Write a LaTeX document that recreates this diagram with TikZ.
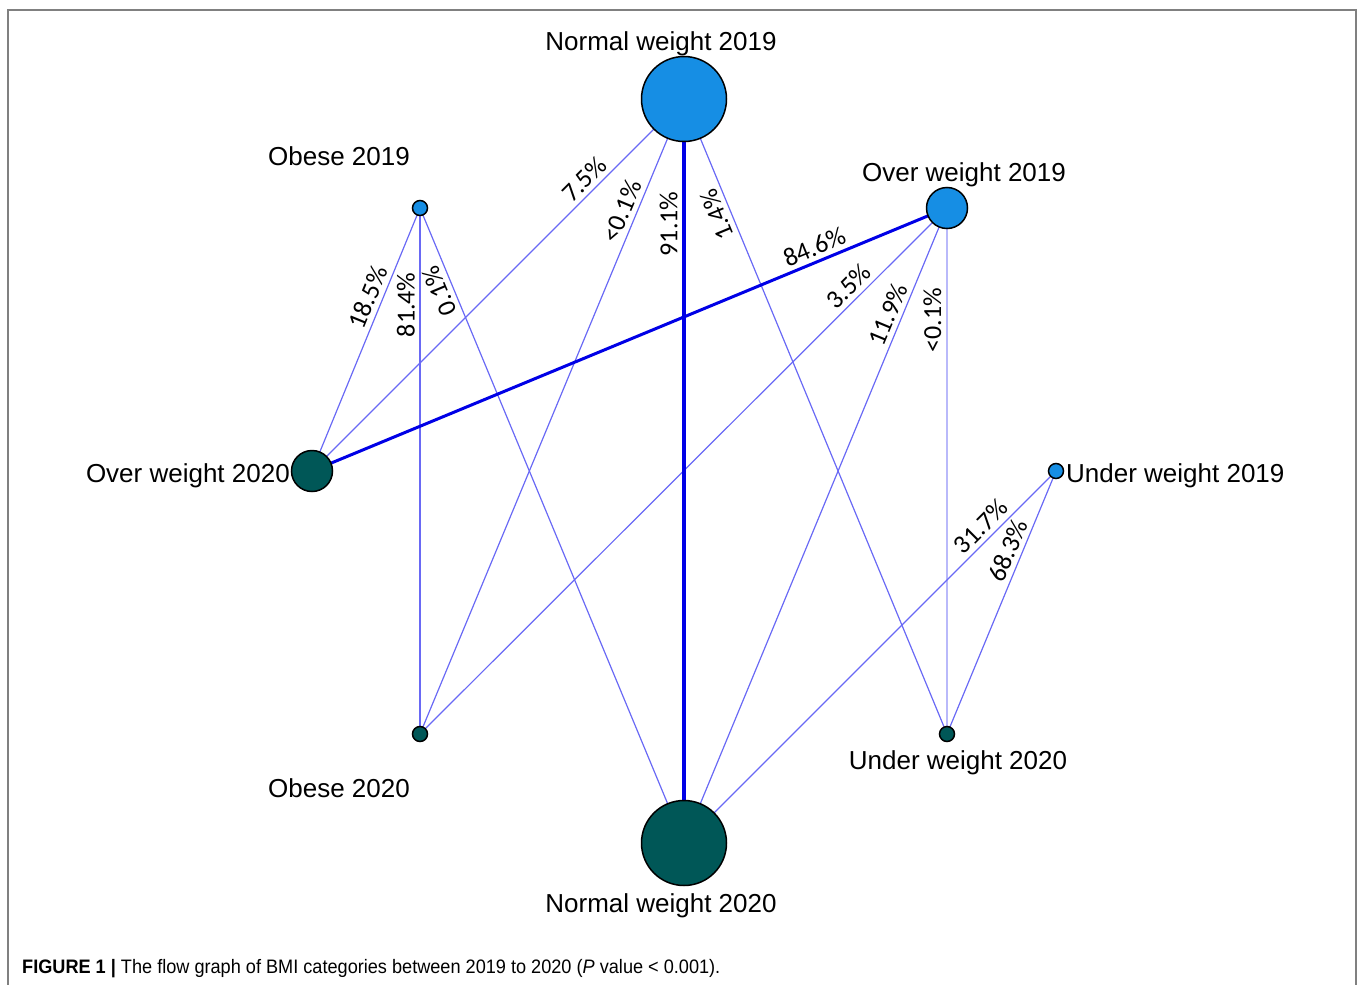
\documentclass[tikz,border=0pt]{standalone}
\usepackage{fontspec}
\setmainfont{Liberation Sans}
\newfontfamily\pctfont{Carlito}
\newfontfamily\capfont[FakeStretch=0.93]{Liberation Sans}
\usetikzlibrary{backgrounds}
\definecolor{nodeblue}{RGB}{22,142,228}
\definecolor{nodeteal}{RGB}{0,87,87}
\definecolor{edgethin}{RGB}{105,105,245}
\definecolor{edgethick}{RGB}{0,0,230}
\definecolor{edgepale}{RGB}{185,185,250}
\definecolor{framegray}{RGB}{128,128,128}
\begin{document}
\begin{tikzpicture}[x=1pt,y=-1pt,
  y19/.style={circle, draw=black, line width=1.5pt, fill=nodeblue, inner sep=0pt},
  y20/.style={circle, draw=black, line width=1.5pt, fill=nodeteal, inner sep=0pt},
  bignode/.style={minimum size=85pt},
  midnode/.style={minimum size=41pt},
  smallnode/.style={minimum size=15pt},
  lab/.style={font=\fontsize{26}{30}\selectfont, inner sep=0pt},
  pct/.style={font=\pctfont\fontsize{26}{30}\selectfont, sloped, above=1.5pt, allow upside down, inner sep=3pt},
  flow/.style={draw=edgethin, line width=1.2pt},
  paleflow/.style={draw=edgepale, line width=2.5pt},
  strongflow/.style={draw=edgethick, line width=3pt},
  strongestflow/.style={draw=edgethick, line width=4pt}]
\useasboundingbox (0,0) rectangle (1360,985);
\draw[framegray, line width=1.5pt] (8,995) -- (8,10) -- (1356,10) -- (1356,995);

% nodes
\node[y19,bignode] (n19) at (684,99) {};
\node[y19,smallnode] (ob19) at (420,208) {};
\node[y19,midnode] (ov19) at (947,208) {};
\node[y19,smallnode] (un19) at (1056,471) {};
\node[y20,midnode] (ov20) at (312,471) {};
\node[y20,smallnode] (ob20) at (420,734) {};
\node[y20,bignode] (n20) at (684,843) {};
\node[y20,smallnode] (un20) at (947,734) {};

% node labels
\node[lab, anchor=base] (ln19) at (661,50) {Normal weight 2019};
\node[lab, anchor=base] (lob19) at (339,165) {Obese 2019};
\node[lab, anchor=base] (lov19) at (964,181) {Over weight 2019};
\node[lab, anchor=base west] (lun19) at (1066,482) {Under weight 2019};
\node[lab, anchor=base east] (lov20) at (290,482) {Over weight 2020};
\node[lab, anchor=base] (lob20) at (339,797) {Obese 2020};
\node[lab, anchor=base] (ln20) at (661,912) {Normal weight 2020};
\node[lab, anchor=base] (lun20) at (958,769) {Under weight 2020};

% edges
\begin{scope}[on background layer]
\draw[flow] (ov20.center) -- node[pct,pos=0.758] {7.5\%} (n19.center);
\draw[flow] (ob20.center) -- node[pct,pos=0.815] {<0.1\%} (n19.center);
\draw[flow] (un20.center) -- node[pct,pos=0.826] {1.4\%} (n19.center);
\draw[flow] (ov20.center) -- node[pct,pos=0.64] {18.5\%} (ob19.center);
\draw[flow] (ob20.center) -- node[pct,pos=0.816] {81.4\%} (ob19.center);
\draw[flow] (n20.center) -- node[pct,pos=0.877] {0.1\%} (ob19.center);
\draw[flow] (ob20.center) -- node[pct,pos=0.832] {3.5\%} (ov19.center);
\draw[flow] (n20.center) -- node[pct,pos=0.824] {11.9\%} (ov19.center);
\draw[paleflow] (un20.center) -- node[pct,pos=0.787] {<0.1\%} (ov19.center);
\draw[flow] (n20.center) -- node[pct,pos=0.824] {31.7\%} (un19.center);
\draw[flow] (un20.center) -- node[pct,pos=0.677] {68.3\%} (un19.center);
\draw[strongflow] (ov20.center) -- node[pct,pos=0.80] {84.6\%} (ov19.center);
\draw[strongestflow] (n20.center) -- node[pct,pos=0.832] {91.1\%} (n19.center);
\end{scope}

% caption
\node[anchor=base west, inner sep=0pt, font=\capfont\fontsize{19.5}{23}\selectfont] (cap) at (22,973)
  {\textbf{FIGURE 1 |} The flow graph of BMI categories between 2019 to 2020 (\textit{P} value < 0.001).};
\end{tikzpicture}
\end{document}
